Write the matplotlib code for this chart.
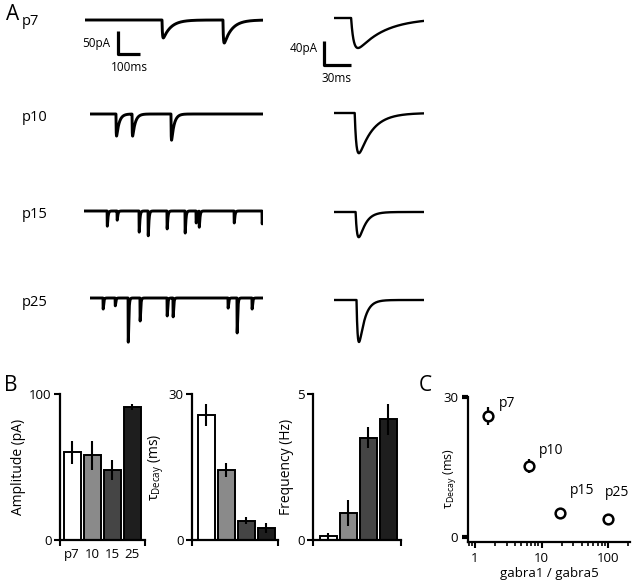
import numpy as np
import matplotlib
matplotlib.use("Agg")
import matplotlib.pyplot as plt

plt.rcParams['font.family'] = ['Open Sans', 'DejaVu Sans']
plt.rcParams['mathtext.fontset'] = 'custom'
plt.rcParams['mathtext.rm'] = 'Open Sans'
plt.rcParams['mathtext.it'] = 'Open Sans:italic'

# ---- data ----
ages = ['p7', 'p10', 'p15', 'p25']
bar_labels = ['p7', '10', '15', '25']
bar_colors = ['white', '#8a8a8a', '#454545', '#1e1e1e']

# panel B
amp_mean = [60, 58, 48, 91]
amp_err = [8, 10, 7, 2]
decay_mean = [25.7, 14.4, 4.0, 2.5]
decay_err = [2.2, 1.4, 0.8, 1.0]
freq_mean = [0.14, 0.92, 3.5, 4.14]
freq_err = [0.1, 0.45, 0.36, 0.53]

# panel C
ratio = [1.57, 6.5, 19, 100]
ratio_err = [0.26, 0.4, 0, 0]
decay_c = [25.9, 15.2, 5.1, 3.8]
decay_c_err = [2.0, 1.5, 0.4, 0.4]

# panel A, example recordings: event times (ms) and amplitudes (pA)
trace_dur = [809, 786, 814, 786]
ev_times = [[350, 627],
            [118, 191, 368],
            [105, 150, 250, 291, 377, 459, 509, 523, 682, 809],
            [59, 114, 173, 227, 350, 377, 627, 668, 736]]
ev_amps = [[39, 50],
           [48, 48, 57],
           [33, 20, 46, 54, 39, 48, 26, 35, 26, 28],
           [24, 17, 96, 50, 39, 41, 22, 76, 24]]
ev_rise = [2.0, 1.0, 0.5, 0.5]
ev_decay = [35, 12, 3.0, 2.5]

# panel A, averaged events
avg_amp = [50, 67, 42, 70]
avg_onset = [19, 23, 24, 25]
avg_rise = [3.0, 2.0, 2.0, 1.5]
avg_decay = [30, 15, 7, 6]
avg_dur = 100

W, H = 640, 581
fig = plt.figure(figsize=(W / 100, H / 100), dpi=100)


def px_axes(left, top, right, bottom):
    return fig.add_axes([left / W, 1 - bottom / H, (right - left) / W, (bottom - top) / H])


def px_text(x, y, s, **kw):
    fig.text(x / W, 1 - y / H, s, **kw)


def psc(t, onset, amp, tr, td):
    tp = tr * td / (td - tr) * np.log(td / tr)
    norm = 1.0 / (np.exp(-tp / td) - np.exp(-tp / tr))
    s = t - onset
    out = np.where(s > 0, np.exp(-s / td) - np.exp(-s / tr), 0.0)
    return -amp * norm * out


# ---- panel A ----
px_text(6, 20, 'A', fontsize=15, va='baseline')

ms_px, pa_px = 100 / 22, 50 / 23          # left traces
ms_px2, pa_px2 = 30 / 27, 40 / 24         # averages
trace_start = [85, 90, 84, 90]
trace_base = [20, 114, 211, 298]
avg_base = [18, 113, 212, 300]
label_y = [25, 121, 218, 306]

for i, age in enumerate(ages):
    px_text(22, label_y[i], age, fontsize=10.5, va='baseline')

    dur = trace_dur[i]
    x0, yb = trace_start[i], trace_base[i]
    ax = px_axes(x0, yb - 8, x0 + dur / ms_px, yb + 50)
    t = np.arange(0, dur, 0.25)
    y = np.zeros_like(t)
    for tt, aa in zip(ev_times[i], ev_amps[i]):
        y += psc(t, tt, aa, ev_rise[i], ev_decay[i])
    ax.plot(t, y, color='black', lw=2.1, solid_joinstyle='round')
    ax.set_xlim(0, dur)
    ax.set_ylim(-50 * pa_px, 8 * pa_px)
    ax.axis('off')
    if i == 0:
        # scale bar 50 pA / 100 ms
        sx = (118 - x0) * ms_px
        sy = -(31 - yb) * pa_px
        ax.plot([sx, sx, sx + 100], [sy, sy - 50, sy - 50], color='black',
                lw=2.3, clip_on=False, solid_capstyle='butt')

    yb2 = avg_base[i]
    ax2 = px_axes(334, yb2 - 8, 334 + avg_dur / ms_px2, yb2 + 50)
    t2 = np.arange(0, avg_dur, 0.1)
    ax2.plot(t2, psc(t2, avg_onset[i], avg_amp[i], avg_rise[i], avg_decay[i]),
             color='black', lw=1.7)
    ax2.set_xlim(0, avg_dur)
    ax2.set_ylim(-50 * pa_px2, 8 * pa_px2)
    ax2.axis('off')
    if i == 0:
        # scale bar 40 pA / 30 ms
        sx = (324 - 334) * ms_px2
        sy = -(41 - yb2) * pa_px2
        ax2.plot([sx, sx, sx + 30], [sy, sy - 40, sy - 40], color='black',
                 lw=2.3, clip_on=False, solid_capstyle='butt')

px_text(110, 47, '50pA', fontsize=8.5, ha='right', va='baseline')
px_text(129, 71, '100ms', fontsize=8.5, ha='center', va='baseline')
px_text(318, 52, '40pA', fontsize=8.5, ha='right', va='baseline')
px_text(336, 82, '30ms', fontsize=8.5, ha='center', va='baseline')

# ---- panel B ----
px_text(4, 391, 'B', fontsize=15, va='baseline')


def bar_panel(ax, mean, err, top, ylabel, xlim, labels=None):
    x = np.arange(len(mean))
    ax.bar(x, mean, width=0.85, color=bar_colors, edgecolor='black', linewidth=1.4)
    ax.errorbar(x, mean, yerr=err, fmt='none', ecolor='black', elinewidth=1.5, capsize=0)
    ax.set_xlim(*xlim)
    ax.set_ylim(0, top)
    ax.set_yticks([0, top])
    ax.set_yticklabels(['0', str(top)])
    ax.set_xticks(x)
    ax.set_xticklabels(labels if labels else [''] * len(x))
    ax.set_xticks(list(xlim), minor=True)
    ax.tick_params(axis='x', which='major', length=0, labelsize=9.5, pad=6)
    ax.tick_params(axis='x', which='minor', length=4, width=1.5, direction='out')
    ax.tick_params(axis='y', length=4, width=1.5, labelsize=9.5, pad=2)
    for s in ['top', 'right']:
        ax.spines[s].set_visible(False)
    for s in ['left', 'bottom']:
        ax.spines[s].set_linewidth(1.6)
    ax.set_ylabel(ylabel, fontsize=10, labelpad=2)


ax_amp = px_axes(60, 394, 145, 540)
bar_panel(ax_amp, amp_mean, amp_err, 100, 'Amplitude (pA)', (-0.6, 3.65), bar_labels)
ax_dec = px_axes(192, 394, 278, 540)
bar_panel(ax_dec, decay_mean, decay_err, 30, r'$\mathrm{\tau_{Decay}}$ (ms)', (-0.7, 3.6))
ax_frq = px_axes(313, 394, 401, 540)
bar_panel(ax_frq, freq_mean, freq_err, 5, 'Frequency (Hz)', (-0.75, 3.65))

# ---- panel C ----
px_text(419, 391, 'C', fontsize=15, va='baseline')
axc = px_axes(468, 397, 630, 542)
axc.errorbar(ratio, decay_c, xerr=ratio_err, yerr=decay_c_err, fmt='o',
             mfc='white', mec='black', mew=1.8, ms=7, ecolor='black',
             elinewidth=1.6, capsize=0)
axc.set_xscale('log')
axc.set_xlim(0.785, 214)
axc.set_ylim(-1.07, 30)
axc.set_xticks([1, 10, 100])
axc.set_xticklabels(['1', '10', '100'])
axc.set_yticks([0, 30])
axc.tick_params(axis='both', which='major', length=4, width=1.5, labelsize=9.5, pad=3)
axc.tick_params(axis='x', which='minor', length=3, width=1.2)
axc.tick_params(axis='y', which='major', width=3)
for s in ['top', 'right']:
    axc.spines[s].set_visible(False)
for s in ['left', 'bottom']:
    axc.spines[s].set_linewidth(1.6)
axc.set_xlabel('gabra1 / gabra5', fontsize=9.5, labelpad=2)
axc.set_ylabel(r'$\mathrm{\tau_{Decay}}$ (ms)', fontsize=9)
axc.yaxis.set_label_coords(-0.06, 0.44)
# label offsets in pixels (dx, dy)
offs = [(11, 13), (10, 16), (10, 23), (-3, 27)]
for i, age in enumerate(ages):
    axc.annotate(age, (ratio[i], decay_c[i]), xytext=offs[i],
                 textcoords='offset pixels', fontsize=10, va='center')

fig.savefig('out.png', dpi=100)
